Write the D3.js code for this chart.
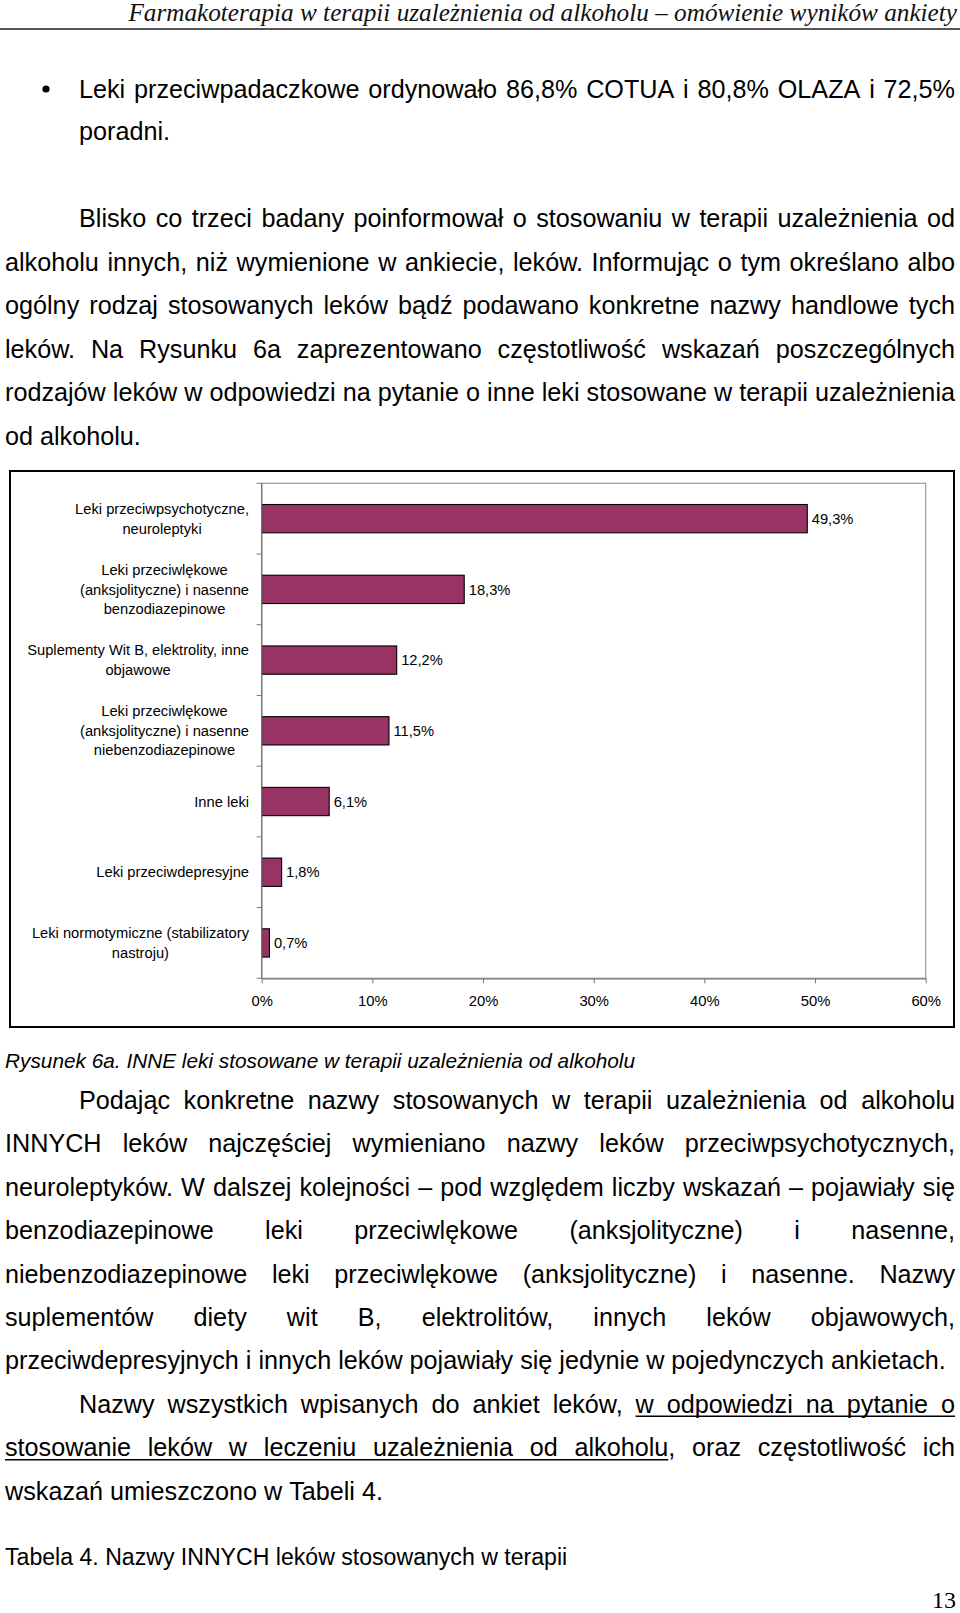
<!DOCTYPE html>
<html>
<head>
<meta charset="utf-8">
<script src="https://cdn.jsdelivr.net/npm/d3@7"></script>
<style>
  html, body { margin: 0; padding: 0; background: #fff; }
  svg { display: block; }
</style>
</head>
<body>
<svg id="page" width="960" height="1613"></svg>
<script>
// ---------------- DATA ----------------
const categories = [
  "Leki przeciwpsychotyczne,\nneuroleptyki",
  "Leki przeciwlękowe\n(anksjolityczne) i nasenne\nbenzodiazepinowe",
  "Suplementy Wit B, elektrolity, inne\nobjawowe",
  "Leki przeciwlękowe\n(anksjolityczne) i nasenne\nniebenzodiazepinowe",
  "Inne leki",
  "Leki przeciwdepresyjne",
  "Leki normotymiczne (stabilizatory\nnastroju)"
];
const values = [49.3, 18.3, 12.2, 11.5, 6.1, 1.8, 0.7];
const xTicks = [0, 10, 20, 30, 40, 50, 60];
const xTickLabels = ["0%", "10%", "20%", "30%", "40%", "50%", "60%"];

const headerText = "Farmakoterapia w terapii uzależnienia od alkoholu – omówienie wyników ankiety";
const bulletLines = [
  "Leki przeciwpadaczkowe ordynowało 86,8% COTUA i 80,8% OLAZA i 72,5%",
  "poradni."
];
const para1Lines = [
  "Blisko co trzeci badany poinformował o stosowaniu w terapii uzależnienia od",
  "alkoholu innych, niż wymienione w ankiecie, leków. Informując o tym określano albo",
  "ogólny rodzaj stosowanych leków bądź podawano konkretne nazwy handlowe tych",
  "leków. Na Rysunku 6a zaprezentowano częstotliwość wskazań poszczególnych",
  "rodzajów leków w odpowiedzi na pytanie o inne leki stosowane w terapii uzależnienia",
  "od alkoholu."
];
const captionText = "Rysunek 6a. INNE leki stosowane w terapii uzależnienia od alkoholu";
const para2Lines = [
  "Podając konkretne nazwy stosowanych w terapii uzależnienia od alkoholu",
  "INNYCH leków najczęściej wymieniano nazwy leków przeciwpsychotycznych,",
  "neuroleptyków. W dalszej kolejności – pod względem liczby wskazań – pojawiały się",
  "benzodiazepinowe leki przeciwlękowe (anksjolityczne) i nasenne,",
  "niebenzodiazepinowe leki przeciwlękowe (anksjolityczne) i nasenne. Nazwy",
  "suplementów diety wit B, elektrolitów, innych leków objawowych,",
  "przeciwdepresyjnych i innych leków pojawiały się jedynie w pojedynczych ankietach."
];
const para3Lines = [
  "Nazwy wszystkich wpisanych do ankiet leków, w odpowiedzi na pytanie o",
  "stosowanie leków w leczeniu uzależnienia od alkoholu, oraz częstotliwość ich",
  "wskazań umieszczono w Tabeli 4."
];
// underline ranges: [line index, first word, last word]
const para3Underline = [[0, 6, 10], [1, 0, 6]];
const tableCaption = "Tabela 4. Nazwy INNYCH leków stosowanych w terapii";
const pageNumber = "13";

// ---------------- DRAW ----------------
const svg = d3.select("#page");
svg.append("rect").attr("width", 960).attr("height", 1613).attr("fill", "#fff");

const SANS = "'Liberation Sans', Arial, sans-serif";
const SERIF = "'Liberation Serif', 'Times New Roman', serif";
const BODY = 25.2;

function measure(str, size, family, style) {
  const t = svg.append("text").attr("font-family", family).attr("font-size", size)
    .attr("font-style", style || "normal").text(str);
  const w = t.node().getComputedTextLength();
  t.remove();
  return w;
}

function drawLine(str, x0, x1, y, justify, underline) {
  const words = str.split(" ");
  const widths = words.map(w => measure(w, BODY, SANS));
  const space = measure("a a", BODY, SANS) - measure("aa", BODY, SANS);
  const total = d3.sum(widths);
  const gap = (justify && words.length > 1) ? (x1 - x0 - total) / (words.length - 1) : space;
  let x = x0;
  const pos = [];
  words.forEach((w, i) => {
    svg.append("text").attr("x", x).attr("y", y)
      .attr("font-family", SANS).attr("font-size", BODY).attr("fill", "#000").text(w);
    pos.push([x, x + widths[i]]);
    x += widths[i] + gap;
  });
  if (underline) {
    const [a, b] = underline;
    let endW = words[b].replace(/[,.]$/, "");
    const xe = pos[b][0] + measure(endW, BODY, SANS);
    svg.append("line").attr("x1", pos[a][0]).attr("x2", xe)
      .attr("y1", y + 3.5).attr("y2", y + 3.5).attr("stroke", "#000").attr("stroke-width", 1.6);
  }
}

function drawParagraph(lines, y0, step, underlines) {
  lines.forEach((l, i) => {
    const last = i === lines.length - 1;
    const x0 = i === 0 ? 79 : 5;
    const ul = (underlines || []).find(u => u[0] === i);
    drawLine(l, x0, 955, y0 + i * step, !last, ul ? [ul[1], ul[2]] : null);
  });
}

// Header
const hw = measure(headerText, 24, SERIF, "italic");
const hSize = 24 * 829 / hw;
svg.append("text").attr("x", 957).attr("y", 21).attr("text-anchor", "end")
  .attr("font-family", SERIF).attr("font-style", "italic").attr("font-size", hSize)
  .attr("fill", "#111").text(headerText);
svg.append("line").attr("x1", 0).attr("x2", 960).attr("y1", 29).attr("y2", 29)
  .attr("stroke", "#555").attr("stroke-width", 1.8);

// Bullet paragraph
svg.append("circle").attr("cx", 46).attr("cy", 89).attr("r", 3.6).attr("fill", "#000");
drawLine(bulletLines[0], 79, 955, 97.5, true);
drawLine(bulletLines[1], 79, 955, 140, false);

// Paragraph 1
drawParagraph(para1Lines, 227, 43.5);

// ---------------- CHART ----------------
svg.append("rect").attr("x", 10).attr("y", 471).attr("width", 944).attr("height", 556)
  .attr("fill", "none").attr("stroke", "#000").attr("stroke-width", 2);

const x = d3.scaleLinear().domain([0, 60]).range([261.7, 925.7]);
const y = d3.scaleBand().domain(categories).range([483.3, 978.3])
  .paddingInner(0.6).paddingOuter(0.3);

// plot frame
svg.append("rect").attr("x", x(0)).attr("y", 483.3)
  .attr("width", x(60) - x(0)).attr("height", 978.3 - 483.3)
  .attr("fill", "none").attr("stroke", "#999").attr("stroke-width", 1.2);

// bars
svg.append("g").selectAll("rect").data(values).join("rect")
  .attr("x", x(0))
  .attr("y", (d, i) => y(categories[i]))
  .attr("width", d => x(d) - x(0))
  .attr("height", y.bandwidth())
  .attr("fill", "#993366").attr("stroke", "#000").attr("stroke-width", 1.1);

// x axis
const xAxis = d3.axisBottom(x).tickValues(xTicks)
  .tickFormat((d, i) => xTickLabels[i]).tickSizeInner(5).tickSizeOuter(0).tickPadding(12);
const gx = svg.append("g").attr("transform", "translate(0,978.3)").call(xAxis);
gx.select(".domain").attr("stroke", "#777").attr("stroke-width", 1.3);
gx.selectAll(".tick line").attr("stroke", "#777");
gx.selectAll(".tick text").attr("font-family", SANS).attr("font-size", 14.8).attr("fill", "#000");

// y axis: ticks at category boundaries
const boundaries = d3.range(categories.length + 1).map(i => 483.3 + i * y.step());
const gy = svg.append("g");
gy.append("line").attr("x1", x(0)).attr("x2", x(0)).attr("y1", 483.3).attr("y2", 978.3)
  .attr("stroke", "#777").attr("stroke-width", 1.3);
gy.selectAll("line.t").data(boundaries).join("line").attr("class", "t")
  .attr("x1", x(0) - 5).attr("x2", x(0)).attr("y1", d => d).attr("y2", d => d)
  .attr("stroke", "#777").attr("stroke-width", 1);

// category labels (multi-line, centered within block, block right-aligned)
const LBL = 14.7;
categories.forEach(c => {
  const lines = c.split("\n");
  const widths = lines.map(l => measure(l, LBL, SANS));
  const maxW = d3.max(widths);
  const cx = 249 - maxW / 2;
  const cy = y(c) + y.bandwidth() / 2;
  const lh = 19.5;
  const t = svg.append("text").attr("font-family", SANS).attr("font-size", LBL)
    .attr("text-anchor", "middle").attr("fill", "#000");
  lines.forEach((l, i) => {
    t.append("tspan").attr("x", cx)
      .attr("y", cy + (i - (lines.length - 1) / 2) * lh)
      .attr("dy", "0.35em").text(l);
  });
});

// value labels
svg.append("g").selectAll("text").data(values).join("text")
  .attr("x", d => x(d) + 4.5)
  .attr("y", (d, i) => y(categories[i]) + y.bandwidth() / 2)
  .attr("dy", "0.35em")
  .attr("font-family", SANS).attr("font-size", LBL).attr("fill", "#000")
  .text(d => d3.format(".1f")(d).replace(".", ",") + "%");

// caption
svg.append("text").attr("x", 5).attr("y", 1068).attr("font-family", SANS)
  .attr("font-style", "italic").attr("font-size", 20.8).attr("fill", "#000").text(captionText);

// Paragraph 2 and 3
drawParagraph(para2Lines, 1109, 43.4);
drawParagraph(para3Lines, 1109 + 7 * 43.4, 43.4, para3Underline);

// Table caption
svg.append("text").attr("x", 5).attr("y", 1565).attr("font-family", SANS)
  .attr("font-size", 23.1).attr("fill", "#000").text(tableCaption);

// Page number
svg.append("text").attr("x", 956).attr("y", 1608).attr("text-anchor", "end")
  .attr("font-family", SERIF).attr("font-size", 24).attr("fill", "#000").text(pageNumber);
</script>
</body>
</html>
